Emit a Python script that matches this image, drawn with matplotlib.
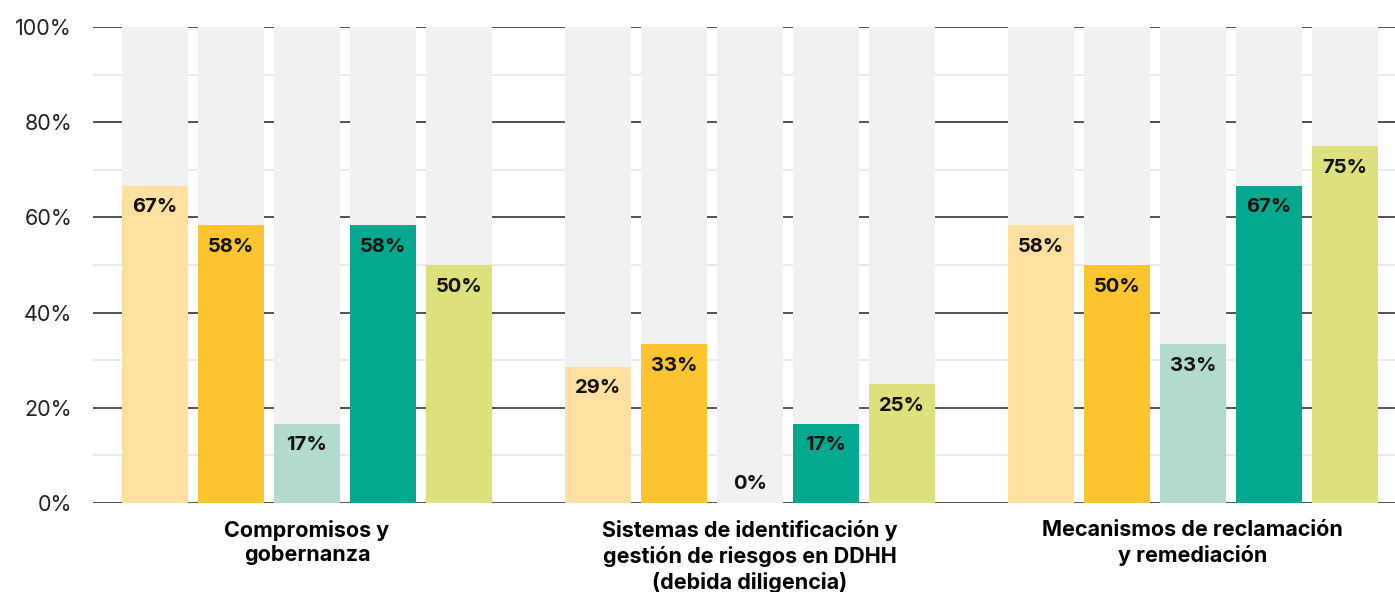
import numpy as np
import matplotlib
matplotlib.use('Agg')
import matplotlib.pyplot as plt
from matplotlib.ticker import MultipleLocator, FuncFormatter

plt.rcParams['font.family'] = ['Inter', 'DejaVu Sans']

categories = ['Compromisos y\ngobernanza',
              'Sistemas de identificación y\ngestión de riesgos en DDHH\n(debida diligencia)',
              'Mecanismos de reclamación\ny remediación']
# five series per category (shares, labels shown rounded)
values = [
    [66.7, 58.3, 16.7, 58.3, 50.0],
    [28.6, 33.3, 0.0, 16.7, 25.0],
    [58.3, 50.0, 33.3, 66.7, 75.0],
]
colors = ['#FFE0A1', '#FCC42E', '#B2DBCE', '#03A88E', '#DCE17E']
bg_color = '#F1F1F1'

group_gap = 5.83
bar_w = 0.87

fig = plt.figure(figsize=(13.95, 5.92), dpi=100)
ax = fig.add_axes([93 / 1395, 1 - 503 / 592, 1 - 93 / 1395, (503 - 27) / 592])

for g, vals in enumerate(values):
    centre = g * group_gap
    for i, v in enumerate(vals):
        x = centre + (i - 2)
        ax.bar(x, 100, width=bar_w, color=bg_color, zorder=2)
        ax.bar(x, v, width=bar_w, color=colors[i], zorder=3)
        # label sits inside the bar top, or just above the baseline for 0
        ax.annotate(f'{v:.0f}%', (x, v), xytext=(0, -15.5 if v > 0 else 14),
                    textcoords='offset points', ha='center', va='center',
                    fontsize=14.5, fontweight='bold', color='#111111', zorder=4)

ax.set_xlim(-2.816, 14.32)
ax.set_ylim(0, 100)
ax.yaxis.set_major_locator(MultipleLocator(20))
ax.yaxis.set_minor_locator(MultipleLocator(10))
ax.yaxis.set_major_formatter(FuncFormatter(lambda v, p: f'{v:.0f}%'))
ax.grid(axis='y', which='major', color='#222222', linewidth=1.1, zorder=1)
ax.grid(axis='y', which='minor', color='#E4E4E4', linewidth=1.1, zorder=1)
ax.set_axisbelow(True)
for s in ax.spines.values():
    s.set_visible(False)
ax.tick_params(axis='y', which='both', length=0, pad=15, labelsize=15.5, labelcolor='#222222')
ax.set_xticks([g * group_gap for g in range(len(categories))])
ax.set_xticklabels(categories, fontsize=15.5, fontweight='bold', linespacing=1.3)
ax.tick_params(axis='x', length=0, pad=12)

fig.savefig('out.png', dpi=100)
